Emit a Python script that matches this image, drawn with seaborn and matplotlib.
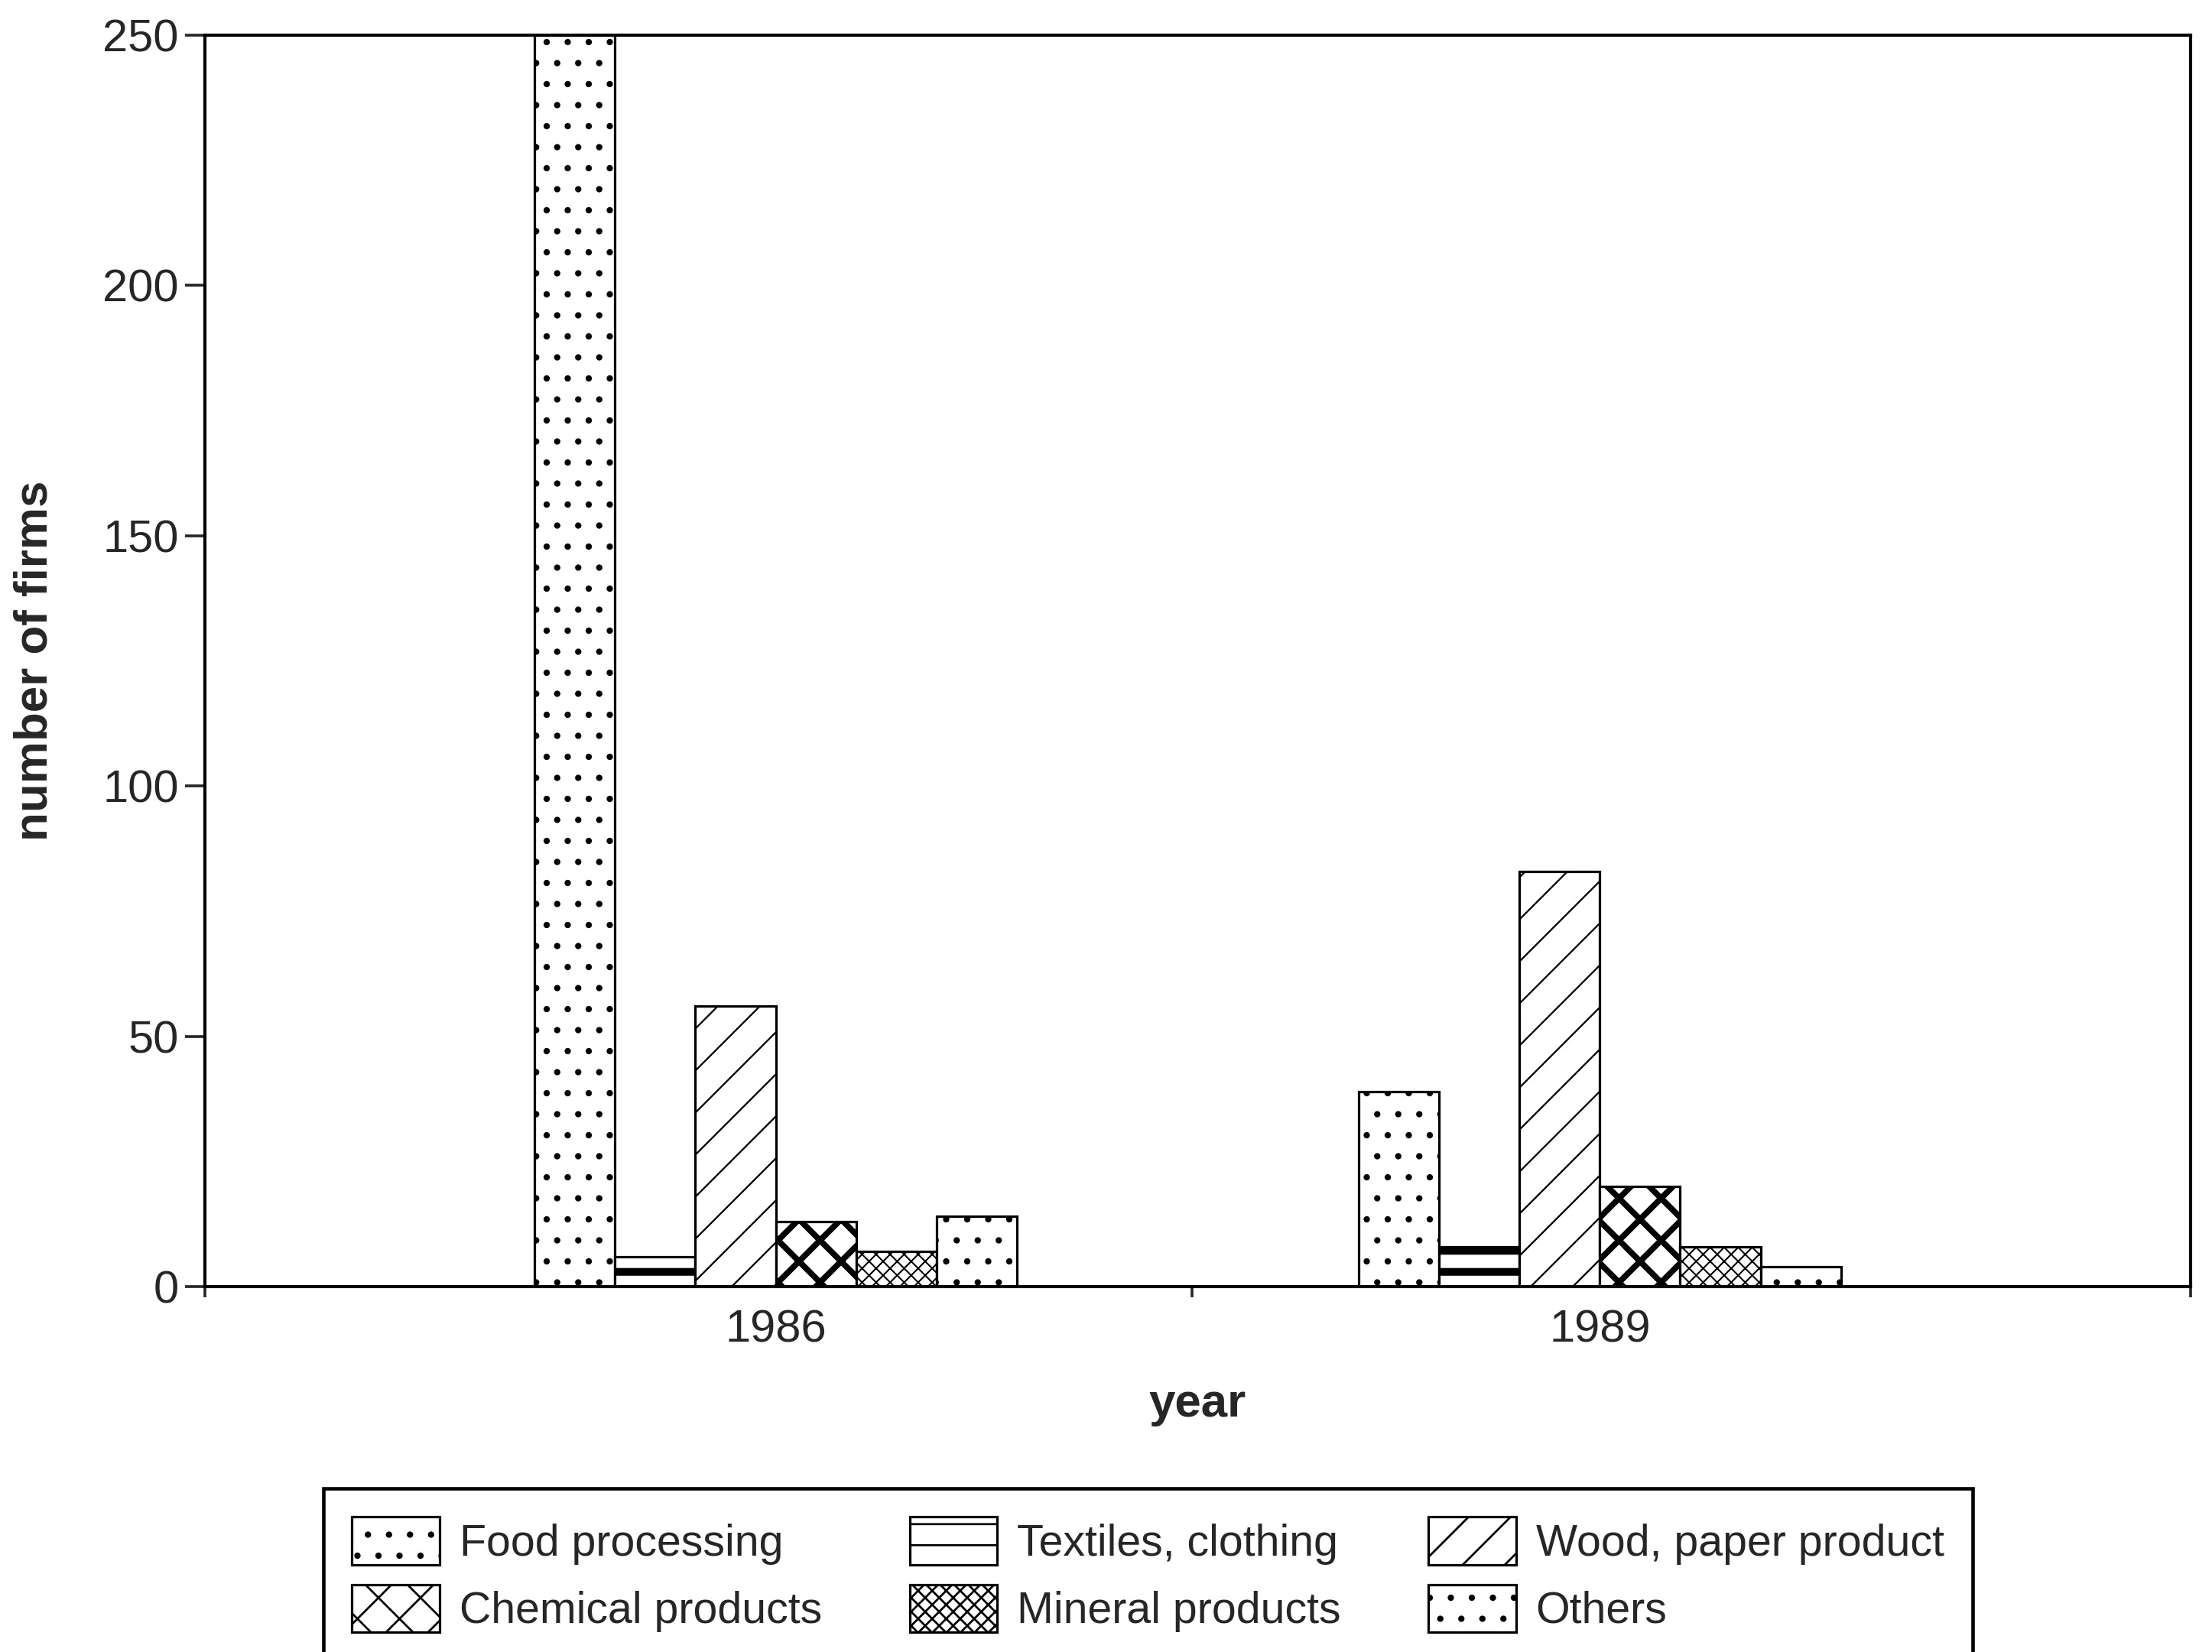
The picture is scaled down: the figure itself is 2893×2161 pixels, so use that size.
import pandas as pd
import seaborn as sns
import matplotlib.pyplot as plt
from matplotlib.patches import Patch

# values
years = ["1986", "1989"]
sectors = [
    "Food processing",
    "Textiles, clothing",
    "Wood, paper product",
    "Chemical products",
    "Mineral products",
    "Others",
]
firms_1986 = [250, 6, 56, 13, 7, 14]
firms_1989 = [39, 8, 83, 20, 8, 4]

# black & white fill patterns, one per sector
hatches = ["..", "--", "//", "xx", "xxxxxx", ".."]
hatch_widths = [0.6, 2.2, 0.5, 1.7, 0.45, 0.6]

rows = []
for year, values in zip(years, [firms_1986, firms_1989]):
    for sector, value in zip(sectors, values):
        rows.append({"year": year, "sector": sector, "firms": value})
df = pd.DataFrame(rows)

sns.set_style("ticks")
plt.rcParams["font.family"] = ["Liberation Sans", "DejaVu Sans"]
plt.rcParams["hatch.linewidth"] = 0.6
plt.rcParams["hatch.color"] = "black"

fig = plt.figure(figsize=(2893 / 330, 2161 / 330), dpi=330)
ax = fig.add_axes([0.0925, 0.2212, 0.8979, 0.7575])

sns.barplot(
    data=df,
    x="year",
    y="firms",
    hue="sector",
    order=years,
    hue_order=sectors,
    palette=["white"] * len(sectors),
    saturation=1,
    width=0.585,
    edgecolor="black",
    linewidth=0.7,
    errorbar=None,
    legend=False,
    ax=ax,
)


def set_pattern(patch, hatch, width):
    patch.set_hatch(hatch)
    if hasattr(patch, "set_hatch_linewidth"):
        patch.set_hatch_linewidth(width)


for container, hatch, hw in zip(ax.containers, hatches, hatch_widths):
    for bar in container:
        set_pattern(bar, hatch, hw)

ax.set_xlim(-0.693, 1.717)
ax.set_ylim(0, 250)
ax.set_yticks([0, 50, 100, 150, 200, 250])
ax.set_xticks([-0.693, 0.505, 1.717], minor=True)
ax.tick_params(axis="y", direction="out", length=5.6, width=0.8, pad=1.8, labelsize=13)
ax.tick_params(axis="x", which="major", length=0, pad=6.5, labelsize=13)
ax.tick_params(axis="x", which="minor", direction="out", length=3.0, width=0.8)

for side in ["left", "right", "top", "bottom"]:
    ax.spines[side].set_visible(True)
    ax.spines[side].set_linewidth(0.9)
    ax.spines[side].set_color("black")

ax.set_ylabel("number of firms", fontsize=13.5, fontweight="bold", labelpad=13)
ax.set_xlabel("year", fontsize=13.5, fontweight="bold", labelpad=9)

handles = []
for sector, hatch, hw in zip(sectors, hatches, hatch_widths):
    p = Patch(facecolor="white", edgecolor="black", linewidth=0.7, label=sector)
    set_pattern(p, hatch, hw)
    handles.append(p)
# legend fills column by column, reorder so rows read left to right
order = [0, 3, 1, 4, 2, 5]
leg = fig.legend(
    [handles[i] for i in order],
    [sectors[i] for i in order],
    loc="upper center",
    bbox_to_anchor=(0.519, 0.099),
    borderaxespad=0,
    ncol=3,
    frameon=True,
    fancybox=False,
    edgecolor="black",
    fontsize=12.5,
    handlelength=2.0,
    handleheight=1.3,
    handletextpad=0.45,
    columnspacing=2.0,
    labelspacing=0.45,
    borderpad=0.65,
)
leg.get_frame().set_linewidth(1.0)
leg.get_frame().set_alpha(1)

fig.savefig("out.png", dpi=330, facecolor="white")
